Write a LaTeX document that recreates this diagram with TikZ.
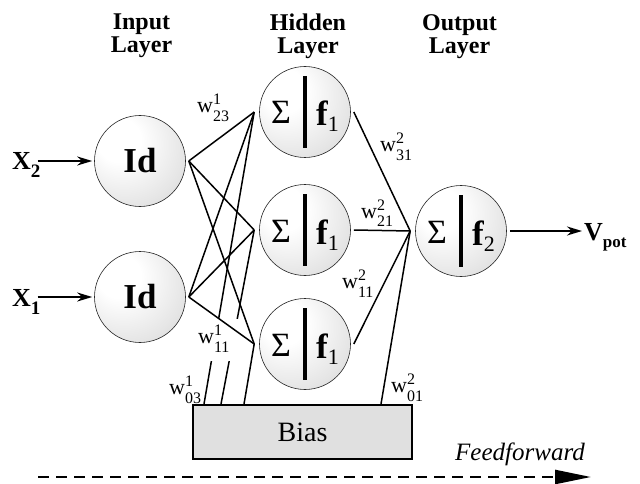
\documentclass[tikz,border=0pt]{standalone}
\usepackage{fontspec}
\setmainfont{Liberation Serif}
\usetikzlibrary{arrows.meta,calc}

% soft grey ball look for the neurons: light upper left, grey rim
\pgfdeclareradialshading{neuronshade}{\pgfpoint{-14bp}{14bp}}{%
  color(0bp)=(white); color(12bp)=(white); color(32bp)=(black!10);
  color(52bp)=(black!22); color(70bp)=(black!26)}

\newcommand{\fs}[1]{\fontsize{#1}{#1}\selectfont}
% weight label w^{sup}_{sub}
\newcommand{\wt}[2]{{\fs{22}w}\makebox[0pt][l]{\raisebox{8pt}{\fs{16}#1}}\raisebox{-9pt}{\fs{16}#2}}

\tikzset{
  neuron/.style={circle, draw=black!85, line width=0.6pt, minimum size=91pt,
    inner sep=0pt, shading=neuronshade},
  idtext/.style={font=\fs{35}\bfseries},
  divider/.style={line width=3.2pt},
  sumtext/.style={font=\fs{34}, inner sep=0pt, anchor=base},
  fntext/.style={font=\fs{35}\bfseries, inner sep=0pt, anchor=base west},
  title/.style={font=\fs{24}\bfseries, align=center, inner sep=0pt, anchor=north,
    execute at begin node=\setlength{\baselineskip}{23pt}},
  conn/.style={line width=1.5pt},
  inarrow/.style={line width=2pt, -{Stealth[length=15pt,width=9pt]}},
  wlabel/.style={inner sep=0pt, anchor=base west},
  biasbox/.style={draw=black, line width=2pt, fill=black!12,
    minimum width=219pt, minimum height=54pt, font=\fs{28}},
  ioname/.style={font=\fs{26}\bfseries, inner sep=0pt, anchor=base west},
}

\begin{document}
\begin{tikzpicture}[x=1pt, y=-1pt]
\useasboundingbox (0,0) rectangle (640,484);

% layer titles
\node[title] (tin)  at (141.5,14) {Input\\Layer};
\node[title] (thid) at (308,14) {Hidden\\Layer};
\node[title] (tout) at (459.5,14) {Output\\Layer};

% input neurons
\node[neuron] (i2) at (140,161) {};
\node[idtext] (i2t) at (i2) {Id};
\node[neuron] (i1) at (140,297) {};
\node[idtext] (i1t) at (i1) {Id};

% hidden and output neurons
\node[neuron] (h1) at (305,112) {};
\node[neuron] (h2) at (305,230) {};
\node[neuron] (h3) at (305,344) {};
\node[neuron] (o)  at (461,231) {};

\foreach \n/\k in {h1/1,h2/1,h3/1,o/2}{
  \draw[divider] ($(\n)+(0,-36)$) -- ($(\n)+(0,36)$);
  \node[sumtext] (\n-s) at ($(\n)+(-24,12)$) {Σ};
  \node[fntext]  (\n-f) at ($(\n)+(11,14)$) {f\raisebox{-6pt}{\fs{22}\mdseries\k}};
}

% bias unit
\node[biasbox] (bias) at (302.5,432) {Bias};

% connector end points, just off the neuron rims
\coordinate (i2o) at ($(i2.east)+(3,0)$);
\coordinate (i1o) at ($(i1.east)+(3,0)$);
\foreach \n in {h1,h2,h3}{
  \coordinate (\n in)  at ($(\n.west)+(-5,0)$);
  \coordinate (\n out) at ($(\n.east)+(3,0)$);
}
\coordinate (oin) at ($(o.west)+(-5,0)$);
\coordinate (b1) at ($(bias.north west)+(12,0)$);
\coordinate (b2) at ($(bias.north west)+(29,0)$);
\coordinate (b3) at ($(bias.north west)+(52,0)$);
\coordinate (b4) at ($(bias.north east)+(-32,0)$);

% bias -> hidden
\draw[conn] (b1) -- (h1in);
\draw[conn] (b2) -- (h2in);
\draw[conn] (b3) -- (h3in);
% this label sits on a clear patch cut out of the two bias lines
\node[wlabel, fill=white, text height=24pt, text depth=18pt] (w111) at (198,343)
  {\wt{1}{11}\hspace*{9pt}};
% input -> hidden
\foreach \s in {i2o,i1o}{
  \foreach \t in {h1in,h2in,h3in}{
    \draw[conn] (\s) -- (\t);
  }
}
% hidden -> output
\draw[conn] (h1out) -- (oin);
\draw[conn] (h2out) -- (oin);
\draw[conn] (h3out) -- (oin);
\draw[conn] (b4) -- (oin);

% weight labels
\node[wlabel] (w231) at (197,113) {\wt{1}{23}};
\node[wlabel] (w312) at (380,152) {\wt{2}{31}};
\node[wlabel] (w212) at (361,218) {\wt{2}{21}};
\node[wlabel] (w112) at (342,288) {\wt{2}{11}};
\node[wlabel] (w031) at (169,394) {\wt{1}{03}};
\node[wlabel] (w012) at (391,392) {\wt{2}{01}};

% inputs and output
\node[ioname] (x2) at (12,170) {X\raisebox{-8pt}{\fs{19}2}};
\node[ioname] (x1) at (12,306) {X\raisebox{-8pt}{\fs{19}1}};
\node[ioname] (vp) at (584,240) {V\raisebox{-7pt}{\fs{17}pot}};
\draw[inarrow] ($(x2.east |- i2)+(-3,0)$) -- ($(i2.west)+(-2,0)$);
\draw[inarrow] ($(x1.east |- i1)+(-3,0)$) -- ($(i1.west)+(-2,0)$);
\draw[inarrow] ($(o.east)+(3,0)$) -- ($(vp.west |- o)+(-2,0)$);

% direction of flow
\node[font=\fs{25}\itshape, inner sep=0pt, anchor=base west] (ff) at (455,460) {Feedforward};
\coordinate (ffs) at (38,477);
\coordinate (ffe) at (591,477);
\draw[line width=2.5pt, dash pattern=on 11pt off 7pt,
  -{Stealth[length=36pt,width=14pt,inset=0pt]}] (ffs) -- (ffe);
\end{tikzpicture}
\end{document}
